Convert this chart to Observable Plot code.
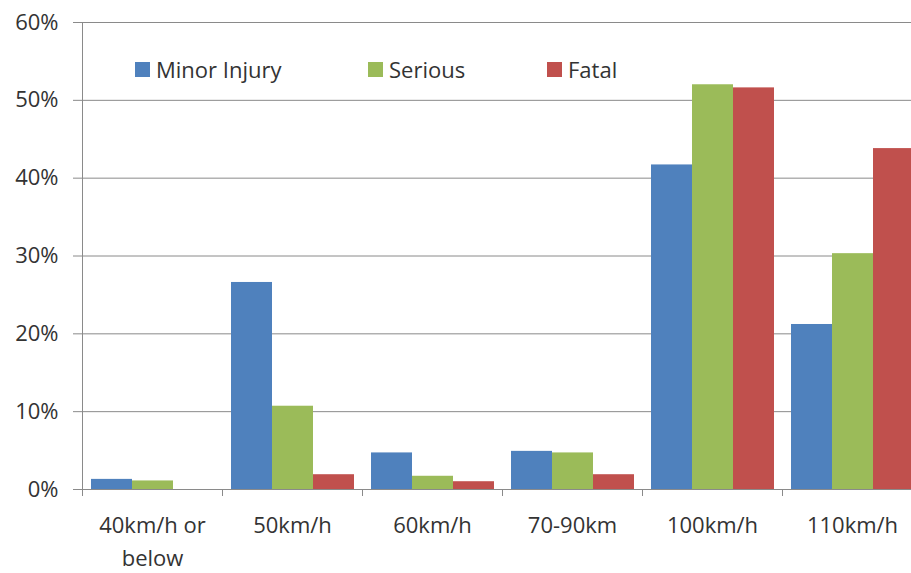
<!DOCTYPE html>
<html>
<head>
<meta charset="utf-8">
<script src="https://cdn.jsdelivr.net/npm/d3@7"></script>
<script src="https://cdn.jsdelivr.net/npm/@observablehq/plot@0.6"></script>
<style>
  html, body { margin: 0; padding: 0; background: #fff; overflow: hidden; }
  #wrap { position: relative; width: 911px; height: 573px; overflow: hidden; }
  #wrap svg { display: block; max-width: none !important; width: 922px; height: 573px !important; }
  #legend { position: absolute; top: 0; left: 0; font-family: 'Open Sans', sans-serif; font-size: 22px; color: #333; }
  .item { position: absolute; display: flex; align-items: center; white-space: nowrap; }
  .sw { width: 15px; height: 15px; margin-right: 6px; }
</style>
</head>
<body>
<div id="wrap"></div>
<script>
// ---- data ----
const categories = ["40km/h or below", "50km/h", "60km/h", "70-90km", "100km/h", "110km/h"];
const categoryLabels = ["40km/h or\nbelow", "50km/h", "60km/h", "70-90km", "100km/h", "110km/h"];
const series = ["Minor Injury", "Serious", "Fatal"];
const seriesColors = ["#4F81BD", "#9BBB59", "#C0504D"];
const minorInjury = [0.013, 0.266, 0.047, 0.049, 0.417, 0.212];
const serious     = [0.011, 0.107, 0.017, 0.047, 0.520, 0.303];
const fatal       = [0.000, 0.019, 0.010, 0.019, 0.516, 0.438];
const yTicks = [0, 0.1, 0.2, 0.3, 0.4, 0.5, 0.6];

const seriesValues = [minorInjury, serious, fatal];
const table = [];
categories.forEach((c, i) => {
  series.forEach((s, j) => table.push({category: c, series: s, value: seriesValues[j][i]}));
});

const axisGray = "#8a8a8a";
const font = "'Open Sans', sans-serif";

const chart = Plot.plot({
  width: 922,
  height: 573,
  marginTop: 22,
  marginRight: 0,
  marginBottom: 84,
  marginLeft: 82,
  facet: {marginTop: 0, marginBottom: 0, marginLeft: 0, marginRight: 0},
  style: {fontFamily: font, fontSize: "22px", color: "#333", background: "transparent", maxWidth: "none"},
  fx: {domain: categories, paddingInner: 0, paddingOuter: 0, label: null, axis: null},
  x: {domain: series, paddingInner: 0, paddingOuter: 0.207, axis: null},
  y: {domain: [0, 0.6], label: null},
  color: {domain: series, range: seriesColors},
  marks: [
    Plot.gridY(yTicks, {stroke: axisGray, strokeOpacity: 1}),
    Plot.barY(table, {fx: "category", x: "series", y: "value", fill: "series"}),
    Plot.ruleY([0], {stroke: axisGray}),
    Plot.frame({anchor: "left", facetAnchor: "left", stroke: axisGray}),
    Plot.axisY(yTicks, {tickFormat: d3.format(".0%"), tickSize: 9, tickPadding: 15, stroke: axisGray, fontSize: 22, label: null}),
    Plot.axisFx({anchor: "bottom", tickSize: 7, tickFormat: () => "", dx: -70, stroke: axisGray, label: null}),
    Plot.axisFx({anchor: "bottom", tickSize: 0, tickPadding: 20, tickFormat: (d) => categoryLabels[categories.indexOf(d)], fontSize: 22, lineHeight: 1.5, label: null})
  ]
});

const wrap = document.getElementById("wrap");
wrap.appendChild(chart);

// legend (inside plot area, top-left)
const legendX = [135, 368, 547];
const legend = document.createElement("div");
legend.id = "legend";
series.forEach((s, i) => {
  const it = document.createElement("div");
  it.className = "item";
  it.style.left = legendX[i] + "px";
  it.style.top = "54px";
  const sw = document.createElement("span");
  sw.className = "sw";
  sw.style.background = seriesColors[i];
  const tx = document.createElement("span");
  tx.textContent = s;
  it.appendChild(sw);
  it.appendChild(tx);
  legend.appendChild(it);
});
wrap.appendChild(legend);
</script>
</body>
</html>
